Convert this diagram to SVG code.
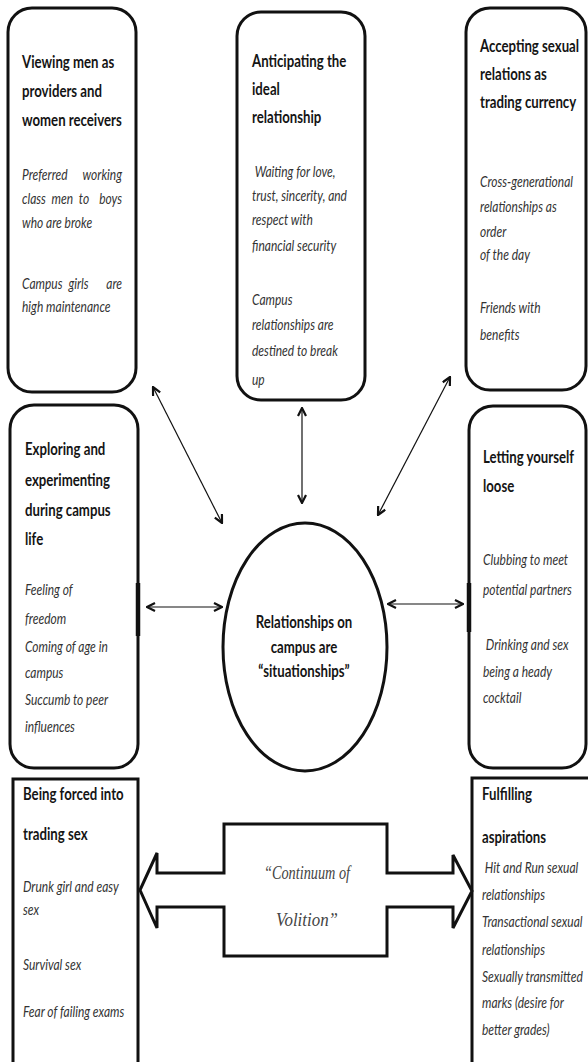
<svg xmlns="http://www.w3.org/2000/svg" width="588" height="1062" viewBox="0 0 588 1062">
<style>
.box{fill:#fff;stroke:#111;stroke-width:3}
.t{font-family:Lato,"Liberation Sans",sans-serif;font-weight:bold;font-size:16.5px;fill:#151515}
.b{font-family:Lato,"Liberation Sans",sans-serif;font-style:italic;font-size:15px;fill:#333}
.c{font-family:"Liberation Serif",serif;font-style:italic;font-size:19px;fill:#444}
.ln{stroke:#111;stroke-width:1.2;fill:none}
</style>
<defs>
<marker id="ah" viewBox="0 0 10 10" refX="9" refY="5" markerWidth="10" markerHeight="10" markerUnits="userSpaceOnUse" orient="auto-start-reverse">
<path d="M1,1 L9,5 L1,9" fill="none" stroke="#111" stroke-width="2.2"/>
</marker>
</defs>
<rect x="0" y="0" width="588" height="1062" fill="#fff"/>

<g id="node-providers">
<rect class="box" x="8" y="8" width="128" height="384" rx="24"/>
<g transform="matrix(0.8 0 0 1 4.4 0)">
<text class="t" x="22" y="68">Viewing men as</text>
<text class="t" x="22" y="97">providers and</text>
<text class="t" x="22" y="126">women receivers</text>
<text class="b" y="180"><tspan x="22">Preferred</tspan><tspan x="147" text-anchor="end">working</tspan></text>
<text class="b" y="204"><tspan x="22">class</tspan><tspan x="59">men</tspan><tspan x="93">to</tspan><tspan x="147" text-anchor="end">boys</tspan></text>
<text class="b" x="22" y="228">who are broke</text>
<text class="b" y="289"><tspan x="22">Campus</tspan><tspan x="80">girls</tspan><tspan x="147" text-anchor="end">are</tspan></text>
<text class="b" x="22" y="312">high maintenance</text>
</g>
</g>

<g id="node-ideal">
<rect class="box" x="237" y="12" width="128" height="388" rx="24"/>
<g transform="matrix(0.8 0 0 1 50.4 0)">
<text class="t" x="252" y="67">Anticipating the</text>
<text class="t" x="252" y="95">ideal</text>
<text class="t" x="252" y="123">relationship</text>
<text class="b" x="252" y="177" xml:space="preserve"> Waiting for love,</text>
<text class="b" x="252" y="201">trust, sincerity, and</text>
<text class="b" x="252" y="225">respect with</text>
<text class="b" x="252" y="251">financial security</text>
<text class="b" x="252" y="305">Campus</text>
<text class="b" x="252" y="330">relationships are</text>
<text class="b" x="252" y="356">destined to break</text>
<text class="b" x="252" y="385">up</text>
</g>
</g>

<g id="node-currency">
<rect class="box" x="466" y="8" width="120" height="382" rx="24"/>
<g transform="matrix(0.8 0 0 1 96 0)">
<text class="t" x="480" y="52">Accepting sexual</text>
<text class="t" x="480" y="80">relations as</text>
<text class="t" x="480" y="108">trading currency</text>
<text class="b" x="480" y="187">Cross-generational</text>
<text class="b" x="480" y="212">relationships as</text>
<text class="b" x="480" y="237">order</text>
<text class="b" x="480" y="260">of the day</text>
<text class="b" x="480" y="313">Friends with</text>
<text class="b" x="480" y="340">benefits</text>
</g>
</g>

<g id="node-exploring">
<rect class="box" x="10" y="405" width="128" height="363" rx="24"/>
<line x1="138" y1="583" x2="138" y2="636" stroke="#111" stroke-width="4.5"/>
<g transform="matrix(0.8 0 0 1 5 0)">
<text class="t" x="25" y="455">Exploring and</text>
<text class="t" x="25" y="486">experimenting</text>
<text class="t" x="25" y="516">during campus</text>
<text class="t" x="25" y="545">life</text>
<text class="b" x="25" y="595">Feeling of</text>
<text class="b" x="25" y="624">freedom</text>
<text class="b" x="25" y="652">Coming of age in</text>
<text class="b" x="25" y="678">campus</text>
<text class="b" x="25" y="705">Succumb to peer</text>
<text class="b" x="25" y="732">influences</text>
</g>
</g>

<g id="node-loose">
<rect class="box" x="469" y="406" width="117" height="362" rx="24"/>
<line x1="469" y1="583" x2="469" y2="632" stroke="#111" stroke-width="4.5"/>
<g transform="matrix(0.8 0 0 1 96.6 0)">
<text class="t" x="483" y="463">Letting yourself</text>
<text class="t" x="483" y="492">loose</text>
<text class="b" x="483" y="565">Clubbing to meet</text>
<text class="b" x="483" y="595">potential partners</text>
<text class="b" x="483" y="650" xml:space="preserve"> Drinking and sex</text>
<text class="b" x="483" y="677">being a heady</text>
<text class="b" x="483" y="703">cocktail</text>
</g>
</g>

<g id="node-center">
<ellipse class="box" cx="305" cy="647" rx="82" ry="124"/>
<g transform="matrix(0.8 0 0 1 60.8 0)">
<text class="t" x="304" y="628" text-anchor="middle" font-size="17.5">Relationships on</text>
<text class="t" x="304" y="653" text-anchor="middle" font-size="17.5">campus are</text>
<text class="t" x="304" y="677" text-anchor="middle" font-size="17.5">“situationships”</text>
</g>
</g>

<g id="node-forced">
<rect class="box" x="13" y="779" width="125" height="300"/>
<g transform="matrix(0.8 0 0 1 4.6 0)">
<text class="t" x="23" y="800">Being forced into</text>
<text class="t" x="23" y="840">trading sex</text>
<text class="b" x="23" y="892">Drunk girl and easy</text>
<text class="b" x="23" y="915">sex</text>
<text class="b" x="23" y="970">Survival sex</text>
<text class="b" x="23" y="1017">Fear of failing exams</text>
</g>
</g>

<g id="node-aspirations">
<rect class="box" x="472" y="778" width="130" height="300"/>
<g transform="matrix(0.8 0 0 1 96.4 0)">
<text class="t" x="482" y="800">Fulfilling</text>
<text class="t" x="482" y="843">aspirations</text>
<text class="b" x="482" y="873" xml:space="preserve"> Hit and Run sexual</text>
<text class="b" x="482" y="900">relationships</text>
<text class="b" x="482" y="927">Transactional sexual</text>
<text class="b" x="482" y="955">relationships</text>
<text class="b" x="482" y="982">Sexually transmitted</text>
<text class="b" x="482" y="1008">marks (desire for</text>
<text class="b" x="482" y="1035">better grades)</text>
</g>
</g>

<g id="node-continuum">
<path d="M157,873 L157,853 L140,890 L157,928 L157,907 L224,907 L224,956 L387,956 L387,907 L453,907 L453,928 L472,891 L453,855 L453,873 L387,873 L387,824 L224,824 L224,873 Z" fill="#fff" stroke="#111" stroke-width="3" stroke-linejoin="miter"/>
<text class="c" x="307" y="879" text-anchor="middle" textLength="86" lengthAdjust="spacingAndGlyphs">“Continuum of</text>
<text class="c" x="307" y="926" text-anchor="middle" textLength="62" lengthAdjust="spacingAndGlyphs">Volition”</text>
</g>

<g id="connectors">
<line class="ln" x1="153" y1="387" x2="222" y2="523" marker-start="url(#ah)" marker-end="url(#ah)"/>
<line class="ln" x1="302" y1="408" x2="302" y2="503" marker-start="url(#ah)" marker-end="url(#ah)"/>
<line class="ln" x1="450" y1="377" x2="378" y2="515" marker-start="url(#ah)" marker-end="url(#ah)"/>
<line class="ln" x1="147" y1="607" x2="222" y2="607" marker-start="url(#ah)" marker-end="url(#ah)"/>
<line class="ln" x1="388" y1="604" x2="463" y2="604" marker-start="url(#ah)" marker-end="url(#ah)"/>
</g>
</svg>
